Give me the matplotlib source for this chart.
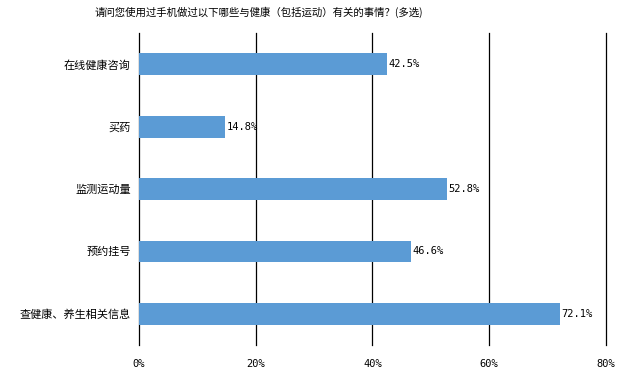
import matplotlib
matplotlib.use("Agg")
import matplotlib.pyplot as plt

plt.rcParams['font.family'] = ['Noto Sans CJK SC', 'DejaVu Sans']

categories = ["在线健康咨询", "买药", "监测运动量", "预约挂号", "查健康、养生相关信息"]
values = [42.5, 14.8, 52.8, 46.6, 72.1]
ticks = [0, 20, 40, 60, 80]
tick_labels = ["0%", "20%", "40%", "60%", "80%"]
title = "请问您使用过手机做过以下哪些与健康（包括运动）有关的事情？(多选)"

fig = plt.figure(figsize=(6.29, 3.80), dpi=100)
ax = fig.add_axes([0.221, 0.092, 0.742, 0.821])

ypos = list(range(len(categories)))
ax.barh(ypos, values, height=0.35, color="#5B9BD5", zorder=3)
for y, v in zip(ypos, values):
    ax.text(v + 0.2, y, f"{v}%", va="center", ha="left", fontsize=7.5,
            family=["DejaVu Sans Mono"], zorder=4)

ax.set_ylim(len(categories) - 0.5, -0.5)
ax.set_xlim(0, 80)
ax.set_xticks(ticks)
ax.set_xticklabels(tick_labels, fontsize=7.5, family=["DejaVu Sans Mono"])
ax.set_yticks(ypos)
ax.set_yticklabels(categories, fontsize=8)
ax.tick_params(axis="both", length=0)
ax.tick_params(axis="x", pad=10)
ax.tick_params(axis="y", pad=6)
ax.grid(True, axis="x", color="black", linewidth=0.9, zorder=0)
for gl in ax.get_xgridlines():
    gl.set_clip_on(False)
for s in ax.spines.values():
    s.set_visible(False)

fig.text(0.412, 0.968, title, ha="center", va="center", fontsize=7.5)

fig.savefig("out.png", dpi=100)
